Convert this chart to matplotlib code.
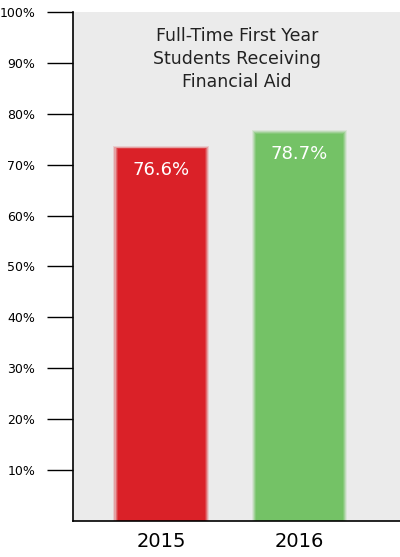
import matplotlib.pyplot as plt
import numpy as np

years = ["2015", "2016"]
bar_heights = [73.0, 76.0]      # as drawn in the picture
labels = ["76.6%", "78.7%"]
colors = ["#da2128", "#74c266"]
ticks = list(range(10, 101, 10))

fig = plt.figure(figsize=(4, 5.57), dpi=100)
ax = fig.add_axes([0.1825, 0.0646, 0.8175, 0.914])
ax.set_facecolor("#ebebeb")
x = np.array([1, 2])
w = 0.63
# soft edges
for k, a in zip(np.linspace(0.06, 0.0, 5), [0.15, 0.25, 0.4, 0.6, 1.0]):
    ax.bar(x, [h + k * 12 for h in bar_heights], width=w + k, color=colors, alpha=a, linewidth=0)
for xi, h, lab in zip(x, bar_heights, labels):
    ax.text(xi, h - 2.2, lab, ha="center", va="top", color="white", fontsize=13)
ax.text(1.55, 97, "Full-Time First Year\nStudents Receiving\nFinancial Aid", ha="center", va="top",
        fontsize=12.5, color="#222222", linespacing=1.35)
ax.set_xlim(0.362, 2.73)
ax.set_ylim(0, 100)
ax.set_yticks(ticks)
ax.set_yticklabels([f"{t}%" for t in ticks], fontsize=9)
ax.tick_params(axis="y", length=18.7, width=1, pad=8.5)
ax.set_xticks(x)
ax.set_xticklabels(years, fontsize=14)
ax.tick_params(axis="x", length=0, pad=8)
for s in ["top", "right"]:
    ax.spines[s].set_visible(False)
ax.spines["left"].set_linewidth(1.2)
ax.spines["bottom"].set_linewidth(1.2)
fig.savefig("out.png", dpi=100, facecolor="white")
